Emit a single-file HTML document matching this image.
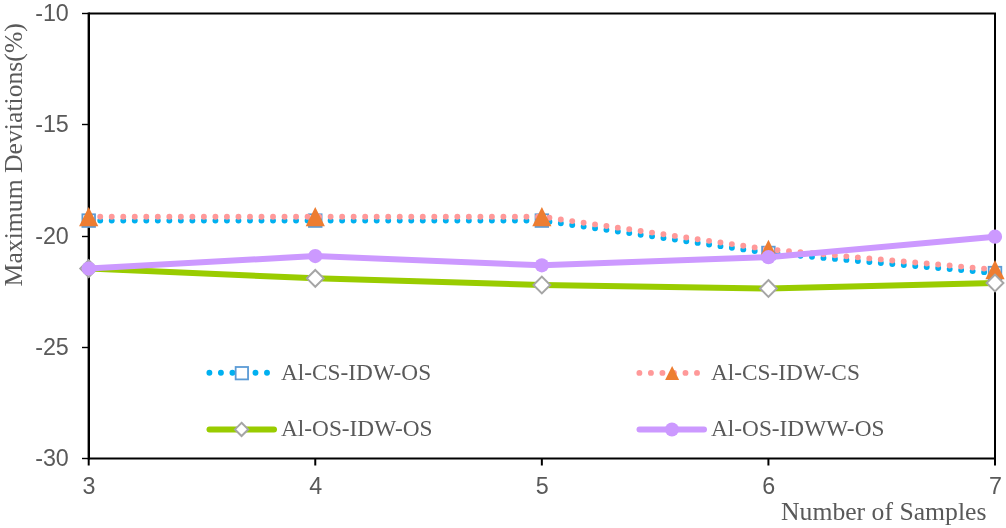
<!DOCTYPE html>
<html><head><meta charset="utf-8"><style>
html,body{margin:0;padding:0;background:#fff;}
body{width:1006px;height:528px;overflow:hidden;}
svg{display:block;will-change:transform;}
.t{font-family:"Liberation Sans",sans-serif;font-size:23.3px;fill:#595959;}
.l{font-family:"Liberation Serif",serif;font-size:23.3px;fill:#595959;}
.a{font-family:"Liberation Serif",serif;font-size:25.7px;fill:#595959;}
</style></head><body>
<svg width="1006" height="528" viewBox="0 0 1006 528">
<path d="M88.7,13.5 H995.00 V458.50 H88.7" fill="none" stroke="#000" stroke-width="2"/>
<line x1="88.8" y1="12.5" x2="88.8" y2="459.5" stroke="#000" stroke-width="2.4"/>
<line x1="82" y1="13.50" x2="88.7" y2="13.50" stroke="#000" stroke-width="1.4"/>
<text x="68.8" y="21.20" text-anchor="end" class="t">-10</text>
<line x1="82" y1="124.50" x2="88.7" y2="124.50" stroke="#000" stroke-width="1.4"/>
<text x="68.8" y="132.45" text-anchor="end" class="t">-15</text>
<line x1="82" y1="236.50" x2="88.7" y2="236.50" stroke="#000" stroke-width="1.4"/>
<text x="68.8" y="243.70" text-anchor="end" class="t">-20</text>
<line x1="82" y1="347.50" x2="88.7" y2="347.50" stroke="#000" stroke-width="1.4"/>
<text x="68.8" y="354.95" text-anchor="end" class="t">-25</text>
<line x1="82" y1="458.50" x2="88.7" y2="458.50" stroke="#000" stroke-width="1.4"/>
<text x="68.8" y="466.20" text-anchor="end" class="t">-30</text>
<line x1="88.70" y1="458.5" x2="88.70" y2="465.5" stroke="#000" stroke-width="2"/>
<text x="89.10" y="493.5" text-anchor="middle" class="t">3</text>
<line x1="315.27" y1="458.5" x2="315.27" y2="465.5" stroke="#000" stroke-width="2"/>
<text x="315.67" y="493.5" text-anchor="middle" class="t">4</text>
<line x1="541.85" y1="458.5" x2="541.85" y2="465.5" stroke="#000" stroke-width="2"/>
<text x="542.25" y="493.5" text-anchor="middle" class="t">5</text>
<line x1="768.42" y1="458.5" x2="768.42" y2="465.5" stroke="#000" stroke-width="2"/>
<text x="768.82" y="493.5" text-anchor="middle" class="t">6</text>
<line x1="995.00" y1="458.5" x2="995.00" y2="465.5" stroke="#000" stroke-width="2"/>
<text x="995.40" y="493.5" text-anchor="middle" class="t">7</text>
<polyline points="88.70,220.60 315.27,220.60 541.85,220.60 768.42,253.00 995.00,273.10" stroke="#00B0F0" stroke-dasharray="0 11.52" stroke-linecap="round" stroke-width="5.9" fill="none"/>
<rect x="82.40" y="214.30" width="12.6" height="12.6" fill="#fff" stroke="#5B9BD5" stroke-width="1.8"/>
<rect x="308.97" y="214.30" width="12.6" height="12.6" fill="#fff" stroke="#5B9BD5" stroke-width="1.8"/>
<rect x="535.55" y="214.30" width="12.6" height="12.6" fill="#fff" stroke="#5B9BD5" stroke-width="1.8"/>
<rect x="762.12" y="246.70" width="12.6" height="12.6" fill="#fff" stroke="#5B9BD5" stroke-width="1.8"/>
<rect x="988.70" y="266.80" width="12.6" height="12.6" fill="#fff" stroke="#5B9BD5" stroke-width="1.8"/>
<polyline points="88.70,216.70 315.27,216.70 541.85,216.70 768.42,249.40 995.00,269.60" stroke="#FF9999" stroke-dasharray="0 11.52" stroke-linecap="round" stroke-width="5.9" fill="none"/>
<polygon points="88.70,207.10 98.30,226.30 79.10,226.30" fill="#ED7D31"/>
<polygon points="315.27,207.10 324.88,226.30 305.67,226.30" fill="#ED7D31"/>
<polygon points="541.85,207.10 551.45,226.30 532.25,226.30" fill="#ED7D31"/>
<polygon points="768.42,239.80 778.02,259.00 758.82,259.00" fill="#ED7D31"/>
<polygon points="995.00,260.00 1004.60,279.20 985.40,279.20" fill="#ED7D31"/>
<polyline points="88.70,268.60 315.27,278.35 541.85,285.05 768.42,288.45 995.00,283.00" stroke="#99CC00" stroke-width="6" stroke-linejoin="round" stroke-linecap="round" fill="none"/>
<polygon points="88.70,260.20 97.10,268.60 88.70,277.00 80.30,268.60" fill="#fff" stroke="#A5A5A5" stroke-width="2"/>
<polygon points="315.27,269.95 323.67,278.35 315.27,286.75 306.88,278.35" fill="#fff" stroke="#A5A5A5" stroke-width="2"/>
<polygon points="541.85,276.65 550.25,285.05 541.85,293.45 533.45,285.05" fill="#fff" stroke="#A5A5A5" stroke-width="2"/>
<polygon points="768.42,280.05 776.82,288.45 768.42,296.85 760.02,288.45" fill="#fff" stroke="#A5A5A5" stroke-width="2"/>
<polygon points="995.00,274.60 1003.40,283.00 995.00,291.40 986.60,283.00" fill="#fff" stroke="#A5A5A5" stroke-width="2"/>
<polyline points="88.70,268.50 315.27,256.05 541.85,265.35 768.42,257.20 995.00,236.70" stroke="#CC99FF" stroke-width="6" stroke-linejoin="round" stroke-linecap="round" fill="none"/>
<circle cx="88.70" cy="268.50" r="7.1" fill="#CC99FF"/>
<circle cx="315.27" cy="256.05" r="7.1" fill="#CC99FF"/>
<circle cx="541.85" cy="265.35" r="7.1" fill="#CC99FF"/>
<circle cx="768.42" cy="257.20" r="7.1" fill="#CC99FF"/>
<circle cx="995.00" cy="236.70" r="7.1" fill="#CC99FF"/>
<line x1="209.4" y1="372.8" x2="273.9" y2="372.8" stroke="#00B0F0" stroke-dasharray="0 11.52" stroke-linecap="round" stroke-width="5.9" fill="none"/>
<rect x="235.65" y="367.00" width="12.4" height="12.4" fill="#fff" stroke="#5B9BD5" stroke-width="1.8"/>
<line x1="639.4" y1="372.9" x2="703.9" y2="372.9" stroke="#FF9999" stroke-dasharray="0 11.52" stroke-linecap="round" stroke-width="5.9" fill="none"/>
<polygon points="672.15,365.90 679.15,379.90 665.15,379.90" fill="#ED7D31"/>
<line x1="209.5" y1="429.4" x2="274.0" y2="429.4" stroke="#99CC00" stroke-width="6" stroke-linecap="round"/>
<polygon points="241.55,422.80 248.15,429.40 241.55,436.00 234.95,429.40" fill="#fff" stroke="#A5A5A5" stroke-width="2"/>
<line x1="639.5" y1="429.5" x2="704.0" y2="429.5" stroke="#CC99FF" stroke-width="6" stroke-linecap="round"/>
<circle cx="671.95" cy="429.50" r="7" fill="#CC99FF"/>
<text x="281" y="379.9" class="l">Al-CS-IDW-OS</text>
<text x="711" y="379.9" class="l">Al-CS-IDW-CS</text>
<text x="281" y="435.5" class="l">Al-OS-IDW-OS</text>
<text x="711" y="435.5" class="l">Al-OS-IDWW-OS</text>
<text x="781" y="519.8" class="a">Number of Samples</text>
<text transform="translate(21.9,286.4) rotate(-90)" x="0" y="0" class="a">Maximum Deviations(%)</text>
</svg></body></html>
